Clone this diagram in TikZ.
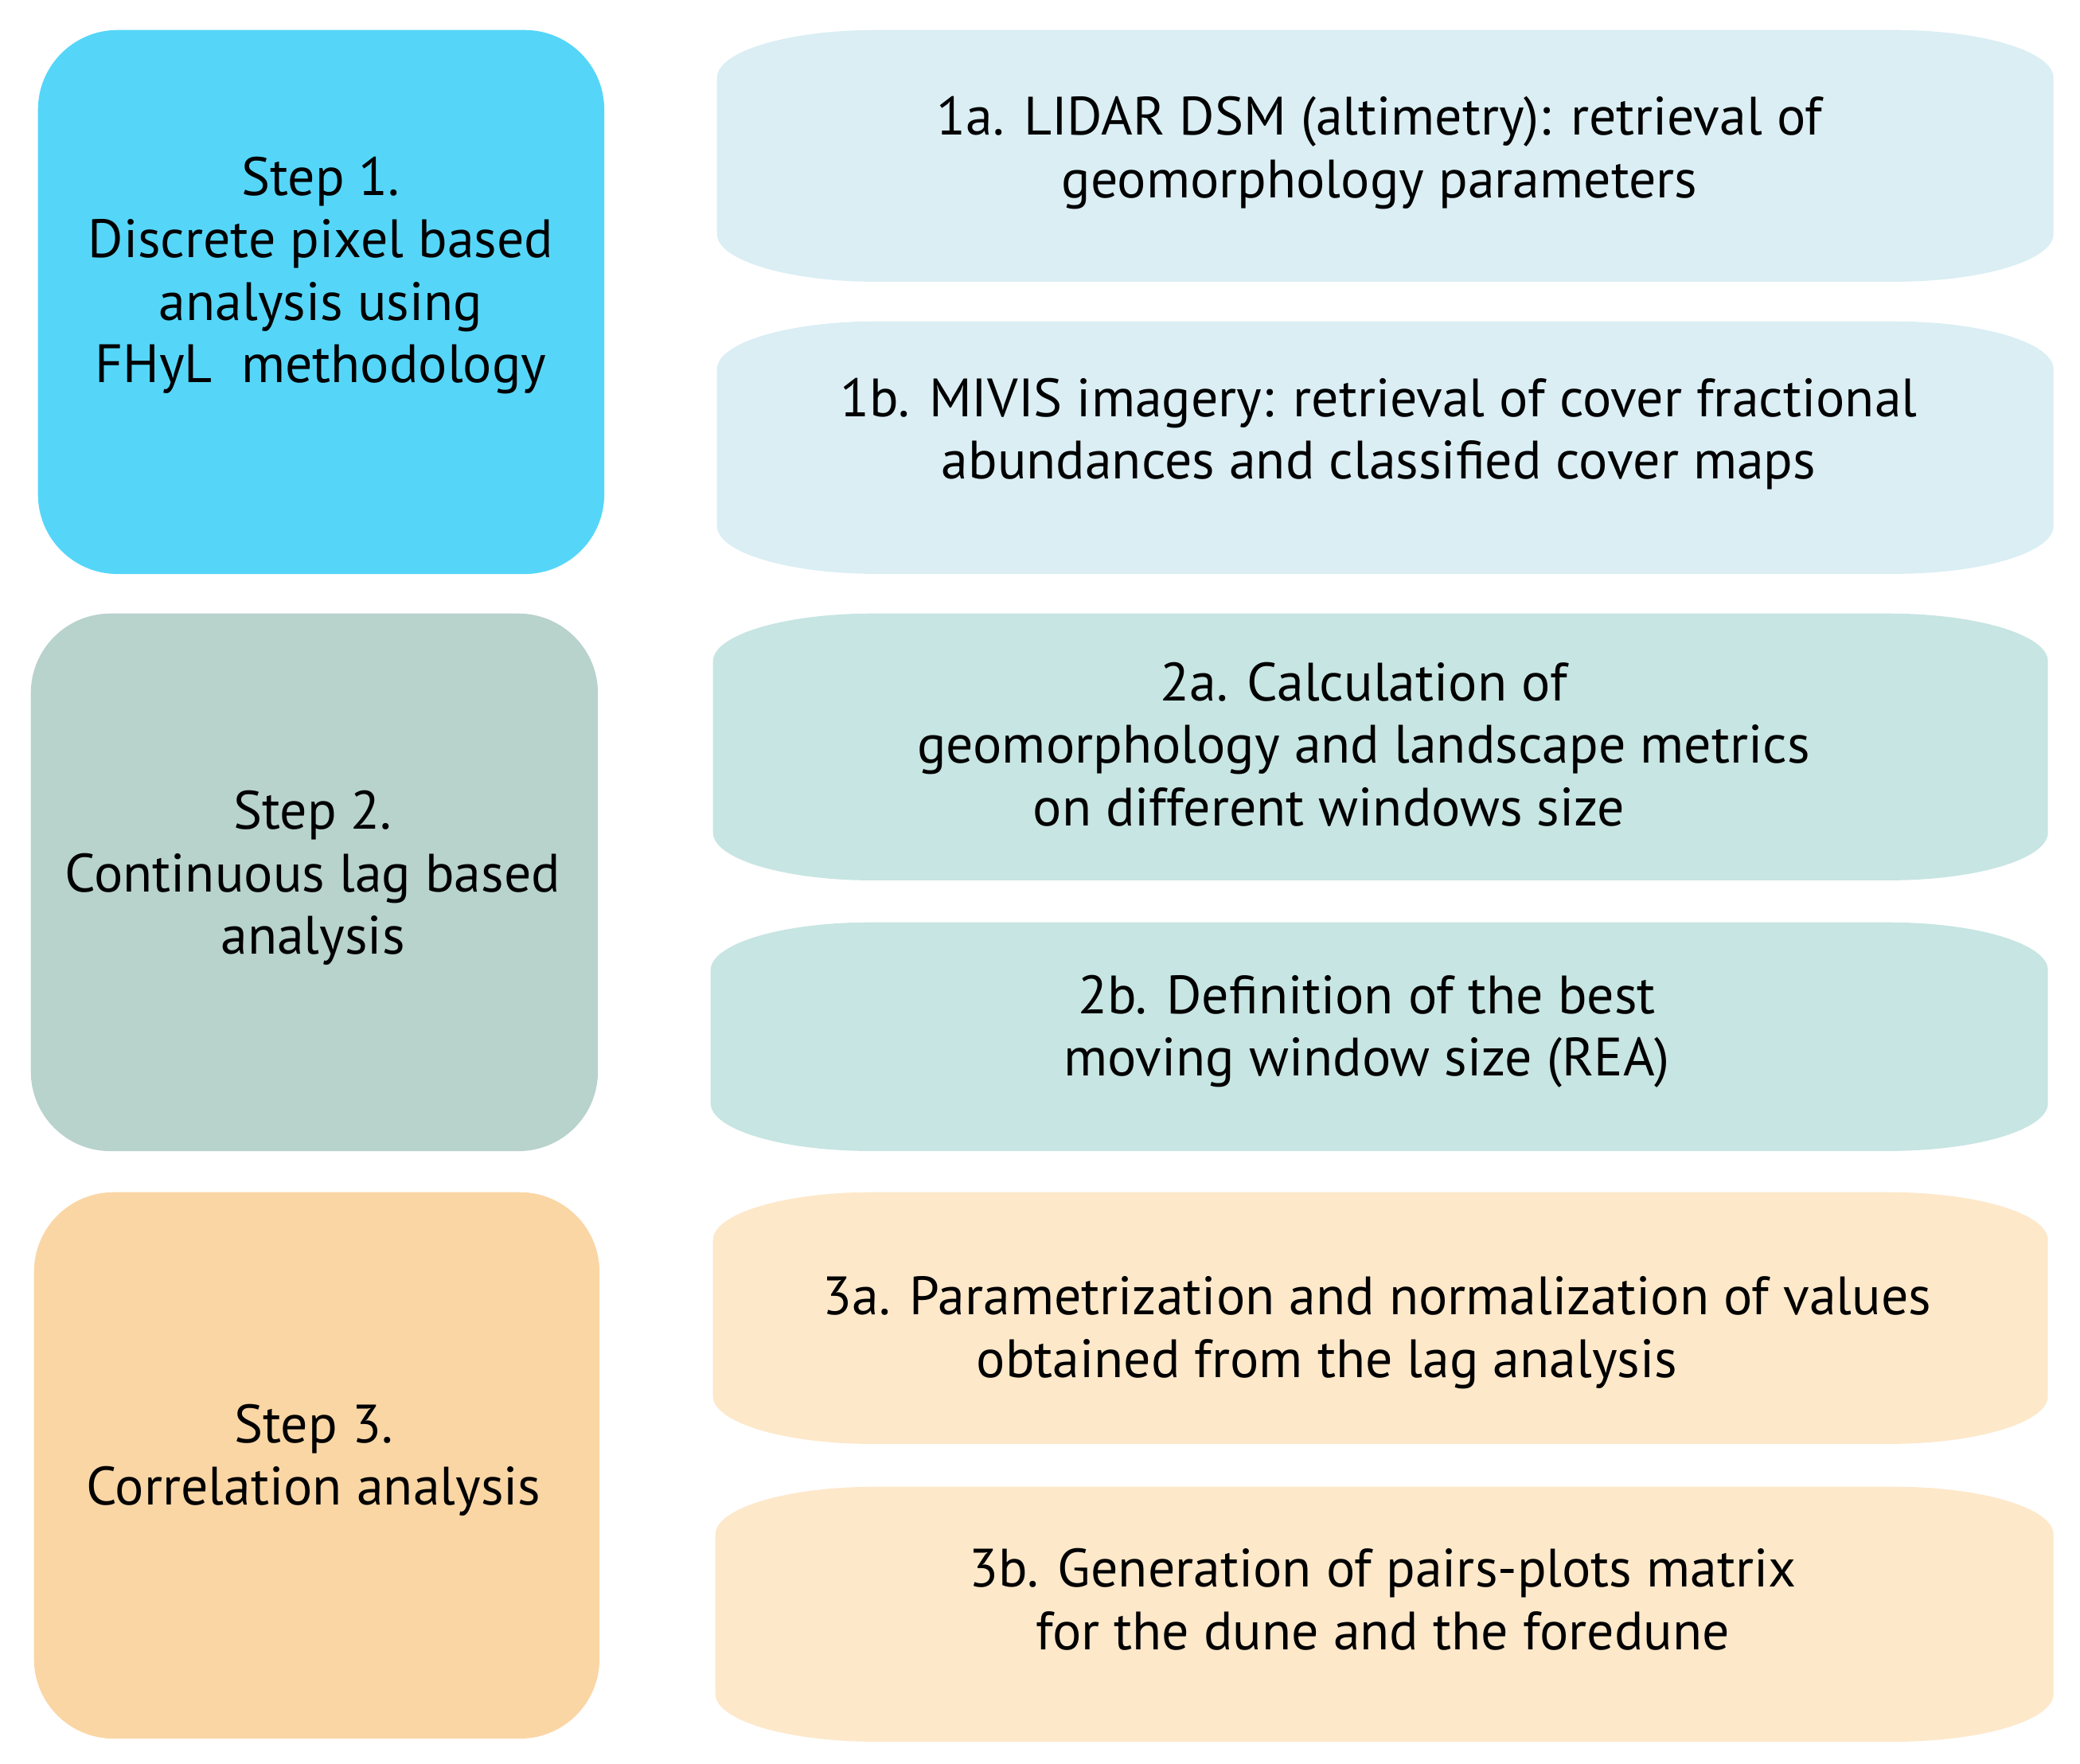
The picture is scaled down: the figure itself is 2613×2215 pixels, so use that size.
\documentclass[tikz,border=0pt]{standalone}
\usepackage{fontspec}
\setmainfont{PT Sans}
\definecolor{cA}{RGB}{85,214,248}
\definecolor{cB}{RGB}{184,210,204}
\definecolor{cC}{RGB}{250,214,165}
\definecolor{cAl}{RGB}{218,238,244}
\definecolor{cBl}{RGB}{199,229,226}
\definecolor{cCl}{RGB}{253,232,202}
\tikzset{
  stepbox/.style={rectangle, rounded corners=1cm, inner sep=0pt, anchor=north west, draw=none},
  capsule/.style={rectangle, inner sep=0pt, anchor=north west, draw=none,
    path picture={\fill[#1]
      ([yshift=-0.6cm]path picture bounding box.north west)
        arc[start angle=180, end angle=90, x radius=2cm, y radius=0.6cm]
      -- ([xshift=-2cm]path picture bounding box.north east)
        arc[start angle=90, end angle=0, x radius=2cm, y radius=0.6cm]
      -- ([yshift=0.6cm]path picture bounding box.south east)
        arc[start angle=0, end angle=-90, x radius=2cm, y radius=0.6cm]
      -- ([xshift=2cm]path picture bounding box.south west)
        arc[start angle=270, end angle=180, x radius=2cm, y radius=0.6cm]
      -- cycle;}},
  txt/.style={align=center, inner sep=0pt, font=\fontsize{19.3pt}{22.3pt}\selectfont}
}
\begin{document}
\begin{tikzpicture}[x=0.01cm, y=-0.01cm]
\useasboundingbox (0,0) rectangle (2613,2215);
% left step boxes
\node[stepbox, fill=cA, minimum width=7.11cm, minimum height=6.83cm] (s1) at (47,37) {};
\node[stepbox, fill=cB, minimum width=7.12cm, minimum height=6.75cm] (s2) at (38,770) {};
\node[stepbox, fill=cC, minimum width=7.10cm, minimum height=6.86cm] (s3) at (42,1497) {};
% right capsules
\node[capsule=cAl, minimum width=16.78cm, minimum height=3.16cm] (r1a) at (900,37) {};
\node[capsule=cAl, minimum width=16.78cm, minimum height=3.17cm] (r1b) at (900,403) {};
\node[capsule=cBl, minimum width=16.76cm, minimum height=3.35cm] (r2a) at (895,770) {};
\node[capsule=cBl, minimum width=16.79cm, minimum height=2.87cm] (r2b) at (892,1158) {};
\node[capsule=cCl, minimum width=16.76cm, minimum height=3.16cm] (r3a) at (895,1497) {};
\node[capsule=cCl, minimum width=16.80cm, minimum height=3.20cm] (r3b) at (898,1867) {};
% texts
\node[txt] (t1) at (403,346) {Step 1.\\Discrete pixel based\\analysis using\\FHyL\ \ methodology};
\node[txt] (t2) at (393,1103) {Step 2.\\Continuous lag based\\analysis};
\node[txt] (t3) at (394,1834) {Step 3.\\Correlation analysis};
\node[txt] (t1a) at (1733,192) {1a. LIDAR DSM (altimetry): retrieval of\\geomorphology parameters};
\node[txt] (t1b) at (1732,545) {1b. MIVIS imagery: retrieval of cover fractional\\abundances and classified cover maps};
\node[txt] (t2a) at (1713,935) {2a. Calculation of\\geomorphology and landscape metrics\\on different windows size\rule{0.87cm}{0pt}};
\node[txt] (t2b) at (1717,1296) {2b. Definition of the best\\moving window size (REA)};
\node[txt] (t3a) at (1730,1674) {3a. Parametrization and normalization of values\\obtained from the lag analysis\rule{1.26cm}{0pt}};
\node[txt] (t3b) at (1737,2009) {3b. Generation of pairs-plots matrix\\for the dune and the foredune};
\end{tikzpicture}
\end{document}
